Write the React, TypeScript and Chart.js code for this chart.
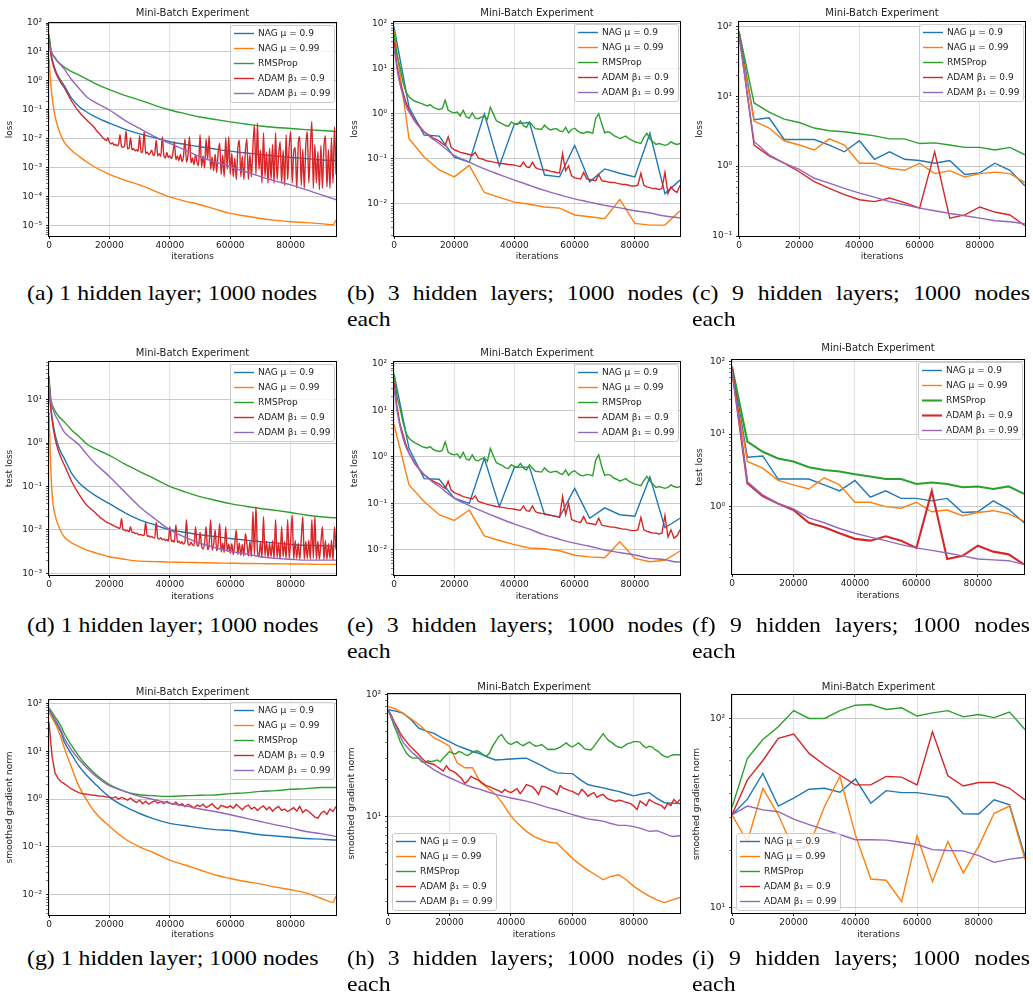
import React, { useEffect, useRef } from 'react';
import { Chart, registerables } from 'chart.js';

Chart.register(...registerables);
Chart.defaults.font.family = "'DejaVu Sans', 'Noto Sans', sans-serif";
Chart.defaults.color = '#222';

function steps(start: number, stop: number, step: number): number[] {
  const out: number[] = [];
  for (let v = start; v <= stop; v += step) out.push(v);
  return out;
}

// ---------- shared labels / categories ----------
const seriesLabels = ['NAG μ = 0.9', 'NAG μ = 0.99', 'RMSProp', 'ADAM β₁ = 0.9', 'ADAM β₁ = 0.99'];
const seriesColors = ['#1f77b4', '#ff7f0e', '#2ca02c', '#d62728', '#9467bd'];
const xTickValues = [0, 20000, 40000, 60000, 80000];
const plotTitle = 'Mini-Batch Experiment';
const xAxisLabel = 'iterations';

const itersSmooth = [0, 500, 1000, 2000, 3000, 4000, 5000, 7500, 10000, 12500, 15000, 20000, 25000, 30000, 35000, 40000, 45000, 50000, 55000, 60000, 65000, 70000, 75000, 80000, 85000, 90000, 94000, 95000];
const itersCoarse = steps(0, 95000, 5000);
const itersFine = steps(0, 95000, 1000);
const iters2500 = steps(0, 95000, 2500);
const itersRed = [0, 500, 1000, 2000, 3000, 4000, 5000, 7500, 10000, 12500, 15000, ...steps(15500, 95000, 500)];

// ---------- (a) 1 hidden layer, training loss ----------
const aNag09 = [40, 12, 6, 2.6, 1.5, 1.0, 0.7, 0.25, 0.13, 0.085, 0.06, 0.035, 0.022, 0.015, 0.011, 0.008, 0.0065, 0.0054, 0.0045, 0.0038, 0.0033, 0.0029, 0.0026, 0.0023, 0.0021, 0.0019, 0.0018, 0.0018];
const aNag099 = [6, 1.0, 0.3, 0.06, 0.025, 0.013, 0.008, 0.004, 0.0025, 0.0016, 0.0011, 6e-4, 3.8e-4, 2.6e-4, 1.6e-4, 1.0e-4, 7.2e-5, 5.4e-5, 3.8e-5, 2.7e-5, 2.2e-5, 1.8e-5, 1.55e-5, 1.4e-5, 1.3e-5, 1.2e-5, 1.1e-5, 1.6e-5];
const aRms = [40, 15, 9, 6, 4.5, 3.7, 3.0, 2.1, 1.6, 1.15, 0.85, 0.5, 0.32, 0.22, 0.145, 0.1, 0.075, 0.057, 0.047, 0.039, 0.033, 0.028, 0.025, 0.023, 0.021, 0.0195, 0.0185, 0.018];
const aAdam09 = [30, 10, 5, 2.2, 1.3, 0.85, 0.6, 0.2, 0.085, 0.045, 0.025,
  0.021, 0.018, 0.016, 0.014, 0.012, 0.0105, 0.0095, 0.0088, 0.011, 0.0077,
  0.0068, 0.0075, 0.0062, 0.0066, 0.0058, 0.0064, 0.014, 0.0055, 0.0052, 0.0056,
  0.019, 0.0045, 0.0048, 0.011, 0.0042, 0.0046, 0.0039, 0.0043, 0.0037, 0.013,
  0.0034, 0.0038, 0.018, 0.0031, 0.0036, 0.0029, 0.0033, 0.0041, 0.0027, 0.0032,
  0.009, 0.0026, 0.0031, 0.0025, 0.012, 0.0028, 0.0022, 0.0034, 0.0023, 0.0026,
  0.0021, 0.0032, 0.008, 0.0019, 0.0026, 0.0018, 0.0029, 0.0017, 0.0024, 0.01,
  0.0016, 0.0027, 0.012, 0.0015, 0.0022, 0.0013, 0.0028, 0.0016, 0.0012, 0.014,
  0.0011, 0.0026, 0.001, 0.01, 0.0019, 0.013, 0.0009, 0.0024, 0.0008, 0.003,
  0.0007, 0.0035, 0.007, 0.0006, 0.0028, 0.0005, 0.011, 0.0009, 0.012, 0.0006,
  0.0032, 0.0005, 0.0022, 0.0004, 0.0045, 0.009, 0.0005, 0.0026, 0.0004, 0.0038,
  0.01, 0.0004, 0.0029, 0.0005, 0.0052, 0.03, 0.0006, 0.035, 0.0009, 0.0042,
  0.0003, 0.016, 0.0005, 0.0035, 0.0003, 0.0048, 0.0004, 0.0065, 0.0003, 0.016,
  0.0004, 0.0028, 0.008, 0.0003, 0.0041, 0.00025, 0.014, 0.0004, 0.0055, 0.018,
  0.0003, 0.0036, 0.005, 0.0002, 0.0062, 0.012, 0.00025, 0.0044, 0.0002, 0.0058,
  0.018, 0.0003, 0.0048, 0.04, 0.0002, 0.0065, 0.0003, 0.0037, 0.00018, 0.006,
  0.0002, 0.0052, 0.013, 0.00022, 0.0043, 0.0002, 0.011, 0.0003, 0.026, 0.0006];
const aAdam099 = [20, 12, 9, 6.5, 4.5, 3.5, 2.6, 1.1, 0.55, 0.28, 0.19, 0.1, 0.045, 0.023, 0.012, 0.007, 0.0042, 0.0024, 0.0016, 0.0011, 7.4e-4, 5e-4, 3.5e-4, 2.6e-4, 1.8e-4, 1.2e-4, 8.7e-5, 8e-5];

// ---------- (b) 3 hidden layers, training loss ----------
const bNag09 = [85, 1.4, 0.34, 0.32, 0.11, 0.085, 1.0, 0.07, 0.6, 0.64, 0.044, 0.04, 0.2, 0.031, 0.06, 0.048, 0.04, 0.37, 0.017, 0.034];
const bNag099 = [70, 0.28, 0.11, 0.057, 0.04, 0.072, 0.018, 0.014, 0.011, 0.0099, 0.0086, 0.0081, 0.0057, 0.0052, 0.0047, 0.0126, 0.0037, 0.0034, 0.0034, 0.0071];
const bRms = [60, 20, 11, 5, 3, 2.4, 2.1, 1.9, 1.8, 1.7,
  1.6, 1.5, 1.6, 1.4, 1.3, 1.25, 1.3, 2.0, 1.2, 1.1,
  1.05, 1.1, 0.9, 1.2, 0.85, 0.8, 1.05, 0.8, 0.78, 0.85,
  0.9, 0.75, 1.4, 1.0, 0.7, 0.65, 0.6, 0.55, 0.53, 0.66,
  0.6, 0.58, 0.7, 0.55, 0.5, 0.66, 0.55, 0.47, 0.46, 0.45,
  0.56, 0.48, 0.44, 0.46, 0.47, 0.42, 0.4, 0.5, 0.38, 0.45,
  0.48, 0.42, 0.38, 0.37, 0.4, 0.39, 0.37, 0.8, 1.0, 0.6,
  0.38, 0.4, 0.38, 0.33, 0.31, 0.28, 0.3, 0.32, 0.28, 0.26,
  0.24, 0.23, 0.22, 0.3, 0.37, 0.28, 0.24, 0.21, 0.22, 0.21,
  0.2, 0.21, 0.24, 0.22, 0.21, 0.22];
const bAdam09 = [40, 12, 5, 3, 1.8, 1.2, 0.9, 0.7, 0.58, 0.48,
  0.4, 0.36, 0.32, 0.29, 0.27, 0.25, 0.22, 0.2, 0.31, 0.18,
  0.16, 0.15, 0.14, 0.135, 0.13, 0.125, 0.12, 0.14, 0.105, 0.1,
  0.095, 0.09, 0.088, 0.085, 0.083, 0.08, 0.079, 0.077, 0.075, 0.074,
  0.073, 0.07, 0.068, 0.085, 0.067, 0.065, 0.085, 0.064, 0.06, 0.058,
  0.057, 0.056, 0.053, 0.052, 0.05, 0.049, 0.13, 0.055, 0.07, 0.042,
  0.038, 0.037, 0.036, 0.05, 0.036, 0.035, 0.034, 0.033, 0.045, 0.033,
  0.032, 0.031, 0.03, 0.03, 0.029, 0.028, 0.027, 0.027, 0.026, 0.025,
  0.025, 0.026, 0.048, 0.026, 0.024, 0.023, 0.022, 0.022, 0.021, 0.022,
  0.05, 0.017, 0.024, 0.02, 0.018, 0.026];
const bAdam099 = [30, 18, 10, 4.5, 2.5, 1.5, 1.1, 0.6, 0.4, 0.29, 0.22, 0.12, 0.085, 0.06, 0.045, 0.034, 0.026, 0.02, 0.016, 0.013, 0.011, 0.0093, 0.0082, 0.0071, 0.0063, 0.0054, 0.005, 0.0049];

// ---------- (c) 9 hidden layers, training loss ----------
const cNag09 = [85, 4.6, 4.9, 2.4, 2.4, 2.4, 2.0, 1.6, 2.3, 1.25, 1.6, 1.25, 1.2, 1.1, 1.2, 0.76, 0.8, 1.1, 0.87, 0.52];
const cNag099 = [70, 4.4, 3.5, 2.3, 2.0, 1.7, 2.45, 2.0, 1.1, 1.1, 0.93, 0.87, 1.1, 0.78, 0.86, 0.7, 0.78, 0.82, 0.78, 0.58];
const cRms = [85, 8, 5.9, 4.7, 4.2, 3.5, 3.2, 3.1, 2.9, 2.7, 2.45, 2.45, 2.1, 2.15, 2.0, 1.85, 1.85, 1.7, 1.85, 1.45];
const cAdam09 = [80, 2.0, 1.4, 1.1, 0.83, 0.6, 0.48, 0.39, 0.33, 0.31, 0.35, 0.3, 0.25, 1.6, 0.18, 0.2, 0.26, 0.22, 0.2, 0.14];
const cAdam099 = [75, 2.25, 1.45, 1.1, 0.9, 0.67, 0.57, 0.48, 0.41, 0.36, 0.31, 0.28, 0.25, 0.23, 0.21, 0.195, 0.18, 0.165, 0.16, 0.15];

// ---------- (d) 1 hidden layer, test loss ----------
const dNag09 = [30, 8, 4, 1.6, 0.9, 0.6, 0.45, 0.2, 0.12, 0.085, 0.064, 0.04, 0.025, 0.017, 0.013, 0.01, 0.0088, 0.0077, 0.007, 0.0063, 0.0058, 0.0053, 0.005, 0.0046, 0.0044, 0.0043, 0.0042, 0.0042];
const dNag099 = [5, 0.4, 0.07, 0.022, 0.013, 0.009, 0.0069, 0.005, 0.0041, 0.0034, 0.003, 0.0024, 0.0021, 0.0019, 0.00185, 0.0018, 0.00178, 0.00175, 0.00172, 0.0017, 0.00168, 0.00166, 0.00165, 0.00163, 0.00162, 0.0016, 0.0016, 0.0016];
const dRms = [35, 12, 8, 5.5, 4.3, 3.6, 3.1, 2.0, 1.4, 0.95, 0.75, 0.52, 0.33, 0.22, 0.15, 0.1, 0.075, 0.058, 0.048, 0.04, 0.035, 0.031, 0.028, 0.025, 0.022, 0.02, 0.019, 0.019];
const dAdam09 = [30, 8, 3.5, 1.3, 0.7, 0.45, 0.32, 0.13, 0.065, 0.037, 0.026,
  0.024, 0.022, 0.021, 0.019, 0.018, 0.017, 0.016, 0.015, 0.0145, 0.014,
  0.0135, 0.0128, 0.0124, 0.0118, 0.0115, 0.011, 0.0108, 0.018, 0.0102, 0.0099,
  0.0095, 0.0097, 0.009, 0.0118, 0.0086, 0.0088, 0.0082, 0.0084, 0.0079, 0.0077,
  0.0078, 0.0074, 0.0076, 0.015, 0.0071, 0.0073, 0.0068, 0.007, 0.0066, 0.0065,
  0.015, 0.0064, 0.0061, 0.0066, 0.0059, 0.0062, 0.0057, 0.006, 0.0055, 0.0118,
  0.0054, 0.0057, 0.0052, 0.013, 0.0051, 0.0055, 0.0049, 0.0053, 0.0047, 0.0052,
  0.017, 0.0048, 0.0044, 0.0052, 0.0045, 0.0043, 0.0118, 0.0046, 0.0042, 0.0088,
  0.0044, 0.0036, 0.0049, 0.0118, 0.0035, 0.0045, 0.017, 0.0034, 0.0046, 0.0099,
  0.0033, 0.0048, 0.014, 0.0031, 0.0049, 0.003, 0.0118, 0.0032, 0.0047, 0.0029,
  0.0048, 0.0027, 0.0049, 0.0099, 0.0027, 0.005, 0.0026, 0.0046, 0.0025, 0.0083,
  0.0048, 0.0025, 0.0053, 0.0024, 0.026, 0.0027, 0.034, 0.0032, 0.0024, 0.0052,
  0.0023, 0.02, 0.0025, 0.0055, 0.0023, 0.005, 0.0024, 0.0056, 0.0022, 0.017,
  0.0023, 0.0049, 0.0021, 0.0118, 0.0024, 0.0053, 0.0022, 0.017, 0.0022, 0.0058,
  0.022, 0.0021, 0.0057, 0.0022, 0.0049, 0.0021, 0.0062, 0.02, 0.0021, 0.0054,
  0.0022, 0.0058, 0.0021, 0.017, 0.0022, 0.02, 0.0021, 0.0055, 0.0021, 0.005,
  0.0118, 0.0021, 0.0056, 0.0021, 0.0048, 0.0022, 0.0058, 0.002, 0.0118, 0.0035];
const dAdam099 = [25, 10, 7, 4.5, 3.3, 2.4, 1.8, 1.25, 0.9, 0.55, 0.35, 0.17, 0.075, 0.034, 0.018, 0.01, 0.0068, 0.0049, 0.0039, 0.0032, 0.0028, 0.0024, 0.0022, 0.0021, 0.002, 0.002, 0.002, 0.002];

// ---------- (e) 3 hidden layers, test loss ----------
const eNag09 = [60, 1.5, 0.34, 0.33, 0.13, 0.1, 0.93, 0.085, 0.6, 0.6, 0.058, 0.051, 0.21, 0.048, 0.08, 0.057, 0.053, 0.37, 0.03, 0.048];
const eNag099 = [5, 0.25, 0.11, 0.057, 0.043, 0.072, 0.02, 0.016, 0.013, 0.011, 0.0106, 0.0096, 0.0077, 0.0071, 0.0068, 0.015, 0.0066, 0.0056, 0.006, 0.0095];
const eRms = [60, 20, 11, 5.5, 3.2, 2.5, 2.2, 2.0, 1.85, 1.7,
  1.6, 1.55, 1.65, 1.45, 1.35, 1.3, 1.35, 2.1, 1.25, 1.15,
  1.1, 1.15, 0.95, 1.25, 0.9, 0.85, 1.1, 0.85, 0.82, 0.9,
  0.95, 0.8, 1.5, 1.05, 0.75, 0.7, 0.65, 0.58, 0.56, 0.68,
  0.62, 0.6, 0.72, 0.57, 0.52, 0.68, 0.57, 0.49, 0.48, 0.47,
  0.58, 0.5, 0.46, 0.48, 0.49, 0.44, 0.42, 0.52, 0.4, 0.47,
  0.5, 0.44, 0.4, 0.39, 0.42, 0.41, 0.39, 0.85, 1.1, 0.62,
  0.4, 0.42, 0.4, 0.35, 0.33, 0.3, 0.32, 0.34, 0.3, 0.28,
  0.26, 0.25, 0.24, 0.31, 0.38, 0.3, 0.26, 0.22, 0.23, 0.22,
  0.21, 0.22, 0.25, 0.23, 0.22, 0.23];
const eAdam09 = [40, 12, 5, 3, 1.8, 1.2, 0.9, 0.7, 0.58, 0.48,
  0.41, 0.37, 0.33, 0.3, 0.28, 0.26, 0.23, 0.21, 0.3, 0.19,
  0.17, 0.16, 0.15, 0.14, 0.135, 0.13, 0.125, 0.145, 0.11, 0.105,
  0.1, 0.095, 0.092, 0.089, 0.086, 0.084, 0.082, 0.08, 0.078, 0.077,
  0.075, 0.073, 0.071, 0.088, 0.07, 0.068, 0.088, 0.066, 0.063, 0.061,
  0.06, 0.058, 0.056, 0.054, 0.052, 0.05, 0.14, 0.058, 0.1, 0.045,
  0.042, 0.04, 0.039, 0.052, 0.038, 0.037, 0.036, 0.035, 0.048, 0.034,
  0.033, 0.032, 0.031, 0.031, 0.03, 0.029, 0.028, 0.028, 0.027, 0.026,
  0.026, 0.027, 0.05, 0.027, 0.025, 0.024, 0.023, 0.023, 0.022, 0.023,
  0.055, 0.019, 0.027, 0.018, 0.02, 0.027];
const eAdam099 = [30, 18, 10, 4.5, 2.5, 1.6, 1.2, 0.65, 0.42, 0.3, 0.23, 0.13, 0.09, 0.065, 0.048, 0.036, 0.028, 0.021, 0.017, 0.014, 0.012, 0.01, 0.0088, 0.0078, 0.0066, 0.0062, 0.0055, 0.0055];

// ---------- (f) 9 hidden layers, test loss ----------
const fNag09 = [85, 4.8, 5.0, 2.4, 2.4, 2.4, 2.0, 1.65, 2.3, 1.35, 1.65, 1.3, 1.3, 1.2, 1.3, 0.83, 0.85, 1.2, 0.92, 0.6];
const fNag099 = [70, 4.2, 3.4, 2.3, 2.0, 1.75, 2.5, 2.0, 1.15, 1.15, 1.0, 0.95, 1.15, 0.85, 0.9, 0.75, 0.83, 0.88, 0.8, 0.63];
const fRms = [85, 7.9, 5.7, 4.6, 4.2, 3.5, 3.2, 3.05, 2.8, 2.6, 2.4, 2.4, 2.05, 2.15, 2.05, 1.85, 1.9, 1.75, 1.9, 1.5];
const fAdam09 = [80, 2.1, 1.4, 1.1, 0.9, 0.6, 0.52, 0.43, 0.36, 0.34, 0.39, 0.34, 0.27, 1.65, 0.19, 0.21, 0.29, 0.24, 0.22, 0.16];
const fAdam099 = [75, 2.2, 1.45, 1.1, 0.93, 0.7, 0.6, 0.5, 0.43, 0.38, 0.34, 0.3, 0.27, 0.25, 0.23, 0.21, 0.19, 0.185, 0.18, 0.16];

// ---------- (g) 1 hidden layer, smoothed gradient norm ----------
const gNag09 = [70, 62, 55, 42, 32, 25, 16, 8.5, 4.8, 3.1, 2.15, 1.1, 0.7, 0.5, 0.38, 0.31, 0.28, 0.25, 0.23, 0.22, 0.2, 0.18, 0.17, 0.16, 0.15, 0.146, 0.14, 0.14];
const gNag099 = [65, 58, 50, 38, 28, 19, 12, 4.5, 1.8, 0.95, 0.55, 0.27, 0.15, 0.1, 0.074, 0.053, 0.042, 0.033, 0.026, 0.022, 0.019, 0.017, 0.0145, 0.0128, 0.011, 0.0085, 0.007, 0.0095];
const gRms = [80, 72, 65, 52, 42, 33, 24, 13, 7.7, 5.0, 3.5, 2.0, 1.45, 1.23, 1.17, 1.14, 1.17, 1.2, 1.22, 1.3, 1.35, 1.45, 1.5, 1.6, 1.65, 1.75, 1.75, 1.75];
const gAdam09 = [40, 8, 3.5, 2.7, 2.3, 2.1, 1.9, 1.7, 1.55, 1.45,
  1.35, 1.3, 1.28, 1.25, 1.22, 1.2, 1.17, 1.15, 1.15, 1.1,
  1.1, 1.05, 1.12, 1.0, 1.08, 1.02, 0.95, 1.05, 0.92, 0.85,
  0.95, 0.8, 0.9, 0.78, 0.85, 0.92, 0.82, 0.88, 0.8, 0.9,
  0.82, 0.78, 0.86, 0.74, 0.8, 0.7, 0.78, 0.72, 0.65, 0.75,
  0.7, 0.78, 0.66, 0.72, 0.8, 0.68, 0.62, 0.74, 0.7, 0.66,
  0.72, 0.64, 0.78, 0.68, 0.6, 0.7, 0.75, 0.62, 0.68, 0.58,
  0.66, 0.72, 0.6, 0.68, 0.56, 0.64, 0.7, 0.58, 0.62, 0.55,
  0.6, 0.66, 0.56, 0.7, 0.52, 0.6, 0.55, 0.48, 0.42, 0.4,
  0.5, 0.56, 0.48, 0.62, 0.55, 0.7];
const gAdam099 = [75, 68, 60, 46, 36, 27, 19, 10.5, 6.6, 4.5, 3.2, 1.9, 1.45, 1.14, 0.97, 0.82, 0.72, 0.62, 0.55, 0.47, 0.4, 0.34, 0.29, 0.25, 0.21, 0.19, 0.17, 0.165];

// ---------- (h) 3 hidden layers, smoothed gradient norm ----------
const hNag09 = [75, 73, 70, 62, 53, 50, 48, 44, 41, 38, 36, 34, 32.5, 30.5, 29, 29.2, 29.5, 29.8, 30, 28, 26, 24, 22.7, 22.5, 22.4, 20, 18.2, 17.6, 17.1, 16.5, 16, 15.3, 14.7, 15.2, 15.6, 14, 12.9, 12.8, 12.7];
const hNag099 = [80, 76, 70, 63, 57, 50, 44, 41, 37.6, 27.5, 25, 25, 19, 17, 15.1, 12.5, 10, 8.6, 7.5, 6.8, 6.4, 6.1, 6, 5.2, 4.5, 4.0, 3.6, 3.3, 3.0, 3.2, 3.3, 3.0, 2.65, 2.4, 2.2, 2.05, 1.95, 2.05, 2.15];
const hRms = [75, 65, 55, 48, 41, 36.5, 33, 31, 30, 30,
  30, 28, 27.5, 28.5, 28, 28.4, 29, 28, 30, 32,
  34, 33, 32.5, 34, 33.5, 32, 31.5, 33, 34, 34.5,
  33.5, 32, 31, 33, 37.5, 41, 45, 47, 42.6, 40,
  38.8, 40, 41, 39, 38, 39.5, 40.6, 39, 37.6, 38,
  38.8, 37, 35.3, 35.5, 35.3, 36, 37, 38.5, 40, 38,
  37, 38.5, 40, 38, 35.7, 35.3, 35, 37.5, 40.6, 44,
  47.7, 44, 41.4, 40, 38, 37, 36.5, 38, 39.5, 40,
  41, 41, 40.6, 38, 36.5, 37.5, 37, 35, 34, 32,
  31, 30.5, 31.5, 32, 32, 32];
const hAdam09 = [75, 68, 60, 54, 48, 44, 41, 38, 36, 34,
  32, 30, 28.4, 27.5, 27, 26.6, 25.5, 24.5, 23.5, 26,
  24, 23.5, 22.7, 21.5, 20.3, 18.6, 19.5, 21.3, 20.5, 20,
  19.4, 18.5, 17.8, 17.5, 17, 16.6, 16.2, 15.6, 16.6, 16,
  15.6, 16.2, 16.8, 15.3, 16.5, 18.2, 17.8, 17.4, 16.4, 15.1,
  17.6, 17.5, 17.1, 16.5, 16, 15, 17.8, 17, 16.6, 16.2,
  16, 15.5, 15, 16.6, 15.8, 14.6, 15.2, 15.6, 14.3, 14.8,
  15.1, 14.2, 13.7, 13.5, 13.2, 13.5, 13.4, 13.1, 12.9, 12.6,
  12.1, 11.3, 13.3, 12.8, 12.2, 13.7, 13.2, 12.8, 12.5, 12.2,
  11.5, 12.8, 12.2, 13.7, 12.9, 13.7];
const hAdam099 = [75, 55, 40, 34, 30, 26.5, 24, 22.2, 20.7, 19.4, 18.2, 17.3, 16.6, 15.8, 15.1, 14.6, 14.1, 13.7, 13.3, 12.8, 12.2, 11.7, 11.3, 10.8, 10.3, 9.9, 9.5, 9.3, 9.1, 8.7, 8.4, 8.4, 8.2, 7.9, 7.5, 7.6, 7.2, 6.8, 6.9];

// ---------- (i) 9 hidden layers, smoothed gradient norm ----------
const iNag09 = [31, 37.5, 51.3, 34.5, 38, 42.3, 42.8, 40.8, 48, 35.7, 41.6, 40.6, 40.6, 39.5, 38.4, 31.4, 31.3, 37.2, 35, 18.7];
const iNag099 = [31, 22.4, 42.8, 31, 20.3, 21.2, 34.3, 49.4, 24.3, 14.2, 14, 10.8, 24, 13.8, 22.4, 15.3, 21.2, 31.6, 34.5, 18];
const iRms = [34, 61.6, 77.5, 90.4, 110, 100, 100, 110, 117.5, 118.5, 111.5, 113.8, 103, 107, 110, 102, 105, 101, 108, 87.5];
const iAdam09 = [31, 47.4, 60, 78.5, 82.7, 65.4, 56.8, 50.3, 44.6, 44.6, 49.4, 49, 44.6, 85, 49.8, 44, 45.9, 45.9, 42.8, 37.2];
const iAdam099 = [31, 34.5, 32.9, 32.2, 29.4, 27.5, 25.9, 24.4, 22.9, 22.9, 22.8, 22.2, 21.6, 20.3, 20.1, 20, 18.9, 17.4, 18.1, 18.5];

// ---------- captions ----------
const captionRows = [
  ['(a) 1 hidden layer; 1000 nodes', '(b) 3 hidden layers; 1000 nodes', '(c) 9 hidden layers; 1000 nodes'],
  ['(d) 1 hidden layer; 1000 nodes', '(e) 3 hidden layers; 1000 nodes', '(f) 9 hidden layers; 1000 nodes'],
  ['(g) 1 hidden layer; 1000 nodes', '(h) 3 hidden layers; 1000 nodes', '(i) 9 hidden layers; 1000 nodes'],
];
const captionTail = 'each';

type Series = { x: number[]; y: number[]; smooth?: boolean; width?: number };
type PanelDef = {
  id: string; L: number; T: number; R: number; B: number;
  yMin: number; yMax: number; yLabel: string; yOff: number;
  titleGap: number; xGap: number; legend: 'ur' | 'll'; series: Series[];
};

const S = (x: number[], y: number[], smooth = false, width?: number): Series => ({ x, y, smooth, width });

const panels: PanelDef[] = [
  { id: 'a', L: 49, T: 23, R: 336, B: 236, yMin: 4.5e-6, yMax: 100, yLabel: 'loss', yOff: 39, titleGap: 10, xGap: 21, legend: 'ur',
    series: [S(itersSmooth, aNag09, true), S(itersSmooth, aNag099, true), S(itersSmooth, aRms, true), S(itersRed, aAdam09, true), S(itersSmooth, aAdam099, true)] },
  { id: 'b', L: 394, T: 22, R: 680, B: 236, yMin: 0.00195, yMax: 109, yLabel: 'loss', yOff: 39, titleGap: 9, xGap: 21, legend: 'ur',
    series: [S(itersCoarse, bNag09), S(itersCoarse, bNag099), S(itersFine, bRms), S(itersFine, bAdam09), S(itersSmooth, bAdam099, true)] },
  { id: 'c', L: 739, T: 22, R: 1025, B: 236, yMin: 0.1, yMax: 115, yLabel: 'loss', yOff: 39, titleGap: 9, xGap: 21, legend: 'ur',
    series: [S(itersCoarse, cNag09), S(itersCoarse, cNag099), S(itersCoarse, cRms), S(itersCoarse, cAdam09), S(itersCoarse, cAdam099)] },
  { id: 'd', L: 49, T: 362, R: 336, B: 575, yMin: 9.1e-4, yMax: 73.5, yLabel: 'test loss', yOff: 39, titleGap: 9, xGap: 22, legend: 'ur',
    series: [S(itersSmooth, dNag09, true), S(itersSmooth, dNag099, true), S(itersSmooth, dRms, true), S(itersRed, dAdam09, true), S(itersSmooth, dAdam099, true)] },
  { id: 'e', L: 394, T: 362, R: 680, B: 575, yMin: 0.0029, yMax: 108.6, yLabel: 'test loss', yOff: 39, titleGap: 9, xGap: 22, legend: 'ur',
    series: [S(itersCoarse, eNag09), S(itersCoarse, eNag099), S(itersFine, eRms), S(itersFine, eAdam09), S(itersSmooth, eAdam099, true)] },
  { id: 'f', L: 732, T: 360, R: 1024, B: 574, yMin: 0.118, yMax: 105, yLabel: 'test loss', yOff: 32, titleGap: 12, xGap: 22, legend: 'ur',
    series: [S(itersCoarse, fNag09), S(itersCoarse, fNag099), S(itersCoarse, fRms, false, 2.1), S(itersCoarse, fAdam09, false, 2.1), S(itersCoarse, fAdam099)] },
  { id: 'g', L: 49, T: 700, R: 336, B: 915, yMin: 0.0038, yMax: 117, yLabel: 'smoothed gradient norm', yOff: 39, titleGap: 8, xGap: 20, legend: 'ur',
    series: [S(itersSmooth, gNag09, true), S(itersSmooth, gNag099, true), S(itersSmooth, gRms, true), S(itersFine, gAdam09), S(itersSmooth, gAdam099, true)] },
  { id: 'h', L: 388, T: 694, R: 680, B: 913, yMin: 1.6, yMax: 101, yLabel: 'smoothed gradient norm', yOff: 36, titleGap: 7, xGap: 22, legend: 'll',
    series: [S(iters2500, hNag09), S(iters2500, hNag099), S(itersFine, hRms), S(itersFine, hAdam09), S(iters2500, hAdam099)] },
  { id: 'i', L: 732, T: 695, R: 1025, B: 913, yMin: 9.4, yMax: 133, yLabel: 'smoothed gradient norm', yOff: 35, titleGap: 8, xGap: 22, legend: 'll',
    series: [S(itersCoarse, iNag09), S(itersCoarse, iNag099), S(itersCoarse, iRms), S(itersCoarse, iAdam09), S(itersCoarse, iAdam099)] },
];

// ---------- helpers ----------
const SUP: Record<string, string> = { '-': '⁻', '0': '⁰', '1': '¹', '2': '²', '3': '³', '4': '⁴', '5': '⁵', '6': '⁶', '7': '⁷', '8': '⁸', '9': '⁹' };
const sup = (n: number) => String(n).split('').map((c) => SUP[c] || c).join('');

function logTicks(min: number, max: number) {
  const ticks: { value: number; major: boolean }[] = [];
  const e0 = Math.floor(Math.log10(min));
  const e1 = Math.ceil(Math.log10(max));
  for (let e = e0; e <= e1; e++) {
    for (let m = 1; m < 10; m++) {
      const v = m * Math.pow(10, e);
      if (v >= min * 0.9999 && v <= max * 1.0001) ticks.push({ value: v, major: m === 1 });
    }
  }
  return ticks;
}

const Y_W = 48;
const X_H = 30;
const TITLE_H = 22;
const PAD_R = 6;

const framePlugin = {
  id: 'mplFrame',
  afterDatasetsDraw(chart: any) {
    const { ctx, chartArea: a } = chart;
    ctx.save();
    ctx.strokeStyle = '#000';
    ctx.lineWidth = 1;
    ctx.strokeRect(Math.round(a.left) - 0.5, Math.round(a.top) - 0.5, Math.round(a.right - a.left) + 1, Math.round(a.bottom - a.top) + 1);
    ctx.restore();
  },
};

function makeLegendPlugin(p: PanelDef) {
  return {
    id: 'mplLegend',
    afterDraw(chart: any) {
      const { ctx, chartArea: a } = chart;
      const ds = chart.data.datasets;
      ctx.save();
      ctx.font = "9px 'DejaVu Sans'";
      let tw = 0;
      ds.forEach((d: any) => { tw = Math.max(tw, ctx.measureText(d.label).width); });
      const rowH = 15;
      const w = Math.round(28 + tw + 4);
      const h = rowH * ds.length + 2;
      const x = p.legend === 'ur' ? Math.round(a.right - 2 - w) : Math.round(a.left + 4);
      const y = p.legend === 'ur' ? Math.round(a.top + 2) : Math.round(a.bottom - 3 - h);
      ctx.beginPath();
      ctx.roundRect(x + 0.5, y + 0.5, w, h, 2.5);
      ctx.fillStyle = 'rgba(255,255,255,0.8)';
      ctx.fill();
      ctx.strokeStyle = '#cccccc';
      ctx.lineWidth = 1;
      ctx.stroke();
      ds.forEach((d: any, i: number) => {
        const cy = y + 8.5 + i * rowH;
        ctx.beginPath();
        ctx.moveTo(x + 4, cy);
        ctx.lineTo(x + 24, cy);
        ctx.strokeStyle = d.borderColor;
        ctx.lineWidth = d.borderWidth;
        ctx.stroke();
        ctx.fillStyle = '#222';
        ctx.textAlign = 'left';
        ctx.textBaseline = 'middle';
        ctx.fillText(d.label, x + 28, cy + 0.5);
      });
      ctx.restore();
    },
  };
}

function buildConfig(p: PanelDef): any {
  const datasets = p.series.map((s, i) => ({
    label: seriesLabels[i],
    data: s.x.map((xv, j) => ({ x: xv, y: s.y[j] })),
    borderColor: seriesColors[i],
    backgroundColor: seriesColors[i],
    borderWidth: s.width || 1.4,
    pointRadius: 0,
    fill: false,
    order: 5 - i,
    cubicInterpolationMode: s.smooth ? 'monotone' : 'default',
    tension: 0,
  }));
  const yTicks = logTicks(p.yMin, p.yMax);
  return {
    type: 'line',
    data: { datasets },
    options: {
      animation: false,
      responsive: false,
      maintainAspectRatio: false,
      devicePixelRatio: 1,
      events: [],
      layout: { padding: { left: 0, top: 0, right: PAD_R, bottom: 0 }, autoPadding: false },
      plugins: {
        legend: { display: false },
        tooltip: { enabled: false },
        title: {
          display: true,
          text: plotTitle,
          fullSize: false,
          color: '#222',
          font: { size: 10, weight: 'normal', lineHeight: 1 },
          padding: { top: 17 - p.titleGap, bottom: p.titleGap - 5 },
        },
      },
      scales: {
        x: {
          type: 'linear',
          min: 0,
          max: 95000,
          afterBuildTicks: (sc: any) => { sc.ticks = xTickValues.map((v) => ({ value: v })); },
          afterFit: (sc: any) => { sc.height = X_H; },
          border: { display: false },
          grid: { color: '#d9d9d9', lineWidth: 0.8, tickColor: '#222', tickLength: 3, tickWidth: 1 },
          ticks: { autoSkip: false, maxRotation: 0, minRotation: 0, padding: 1, color: '#222', font: { size: 9 }, callback: (v: any) => String(v) },
          title: { display: true, text: xAxisLabel, color: '#222', font: { size: 9, lineHeight: 1 }, padding: { top: 0, bottom: 25.5 - p.xGap } },
        },
        y: {
          type: 'logarithmic',
          min: p.yMin,
          max: p.yMax,
          afterBuildTicks: (sc: any) => { sc.ticks = yTicks.map((t) => ({ ...t })); },
          afterFit: (sc: any) => { sc.width = Y_W; },
          border: { display: false },
          grid: {
            color: (c: any) => (c.tick && c.tick.major ? '#bdbdbd' : 'rgba(0,0,0,0)'),
            lineWidth: 0.8,
            tickColor: '#222',
            tickLength: 3,
            tickWidth: (c: any) => (c.tick && c.tick.major ? 1 : 0.6),
          },
          ticks: {
            autoSkip: false,
            padding: 4,
            color: '#222',
            font: { size: 9 },
            major: { enabled: false },
            callback: (v: any, idx: number, ticks: any[]) =>
              ticks[idx] && ticks[idx].major ? '10' + sup(Math.round(Math.log10(Number(v)))) : '',
          },
          title: { display: true, text: p.yLabel, color: '#222', font: { size: 9, lineHeight: 1 }, padding: { top: 43.5 - p.yOff, bottom: 0 } },
        },
      },
    },
    plugins: [framePlugin, makeLegendPlugin(p)],
  };
}

function ChartPanel({ p }: { p: PanelDef }) {
  const ref = useRef<HTMLCanvasElement | null>(null);
  useEffect(() => {
    if (!ref.current) return;
    const chart = new Chart(ref.current, buildConfig(p));
    return () => chart.destroy();
  }, [p]);
  const left = p.L - Y_W;
  const top = p.T - TITLE_H;
  const w = p.R + PAD_R - left;
  const h = p.B + X_H - top;
  return (
    <canvas
      ref={ref}
      width={w}
      height={h}
      style={{ position: 'absolute', left, top, width: w, height: h }}
    />
  );
}

const CAP_SCALE = 1.133;
const CAP_FONT = "21px 'Liberation Serif', 'Times New Roman', serif";
const capLefts = [27, 347, 692];
const capWidths = [0, 336, 338];
const capBaselines = [301, 633, 966];

function Caption({ text, col, row }: { text: string; col: number; row: number }) {
  const base = capBaselines[row];
  const common: React.CSSProperties = {
    position: 'absolute',
    left: capLefts[col],
    font: CAP_FONT,
    lineHeight: '21px',
    color: '#000',
    transform: `scaleX(${CAP_SCALE})`,
    transformOrigin: '0 0',
  };
  if (col === 0) {
    return <div style={{ ...common, top: base - 17.6, whiteSpace: 'nowrap' }}>{text}</div>;
  }
  return (
    <>
      <div style={{ ...common, top: base - 17.6, width: capWidths[col] / CAP_SCALE, textAlign: 'justify', textAlignLast: 'justify' as any }}>{text}</div>
      <div style={{ ...common, top: base + 26 - 17.6, whiteSpace: 'nowrap' }}>{captionTail}</div>
    </>
  );
}

export default function App() {
  return (
    <div style={{ position: 'absolute', left: 0, top: 0, width: 1033, height: 1008, background: '#fff', overflow: 'hidden' }}>
      {panels.map((p) => <ChartPanel key={p.id} p={p} />)}
      {captionRows.map((row, r) => row.map((t, c) => <Caption key={`${r}-${c}`} text={t} col={c} row={r} />))}
    </div>
  );
}
